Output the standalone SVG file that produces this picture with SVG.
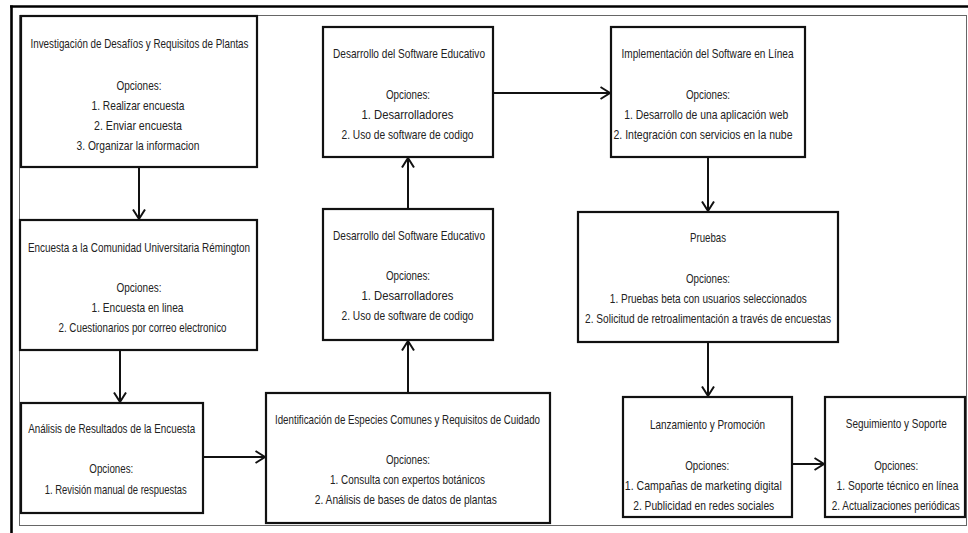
<svg xmlns="http://www.w3.org/2000/svg" width="968" height="533" viewBox="0 0 968 533">
<defs>
<style>
.box{fill:#fff;stroke:#111;stroke-width:2.2}
.t{font-family:"Liberation Sans",Arial,sans-serif;font-size:13.5px;fill:#222;text-anchor:middle}
.conn{fill:none;stroke:#111;stroke-width:2}
.frame{fill:none;stroke:#666;stroke-width:1}
.thick{stroke:#000;stroke-width:2.6}
</style>
<marker id="arr" viewBox="0 0 12 14" refX="10.5" refY="7" markerWidth="12" markerHeight="14" markerUnits="userSpaceOnUse" orient="auto">
<path d="M1,1 L10.5,7 L1,13" fill="none" stroke="#111" stroke-width="2"/>
</marker>
</defs>
<rect x="0" y="0" width="968" height="533" fill="#fff"/>
<rect class="frame" x="19.5" y="15.5" width="947" height="510"/>
<line class="thick" x1="10" y1="6.5" x2="968" y2="6.5"/>
<line class="thick" x1="11.5" y1="5.5" x2="11.5" y2="533"/>

<g id="connectors">
<path class="conn" d="M139,167 V219" marker-end="url(#arr)"/>
<path class="conn" d="M120,350 V402" marker-end="url(#arr)"/>
<path class="conn" d="M203,457 H265" marker-end="url(#arr)"/>
<path class="conn" d="M408,393 V341" marker-end="url(#arr)"/>
<path class="conn" d="M408,209 V158" marker-end="url(#arr)"/>
<path class="conn" d="M493,93 H610" marker-end="url(#arr)"/>
<path class="conn" d="M708,157 V211" marker-end="url(#arr)"/>
<path class="conn" d="M708,342 V396" marker-end="url(#arr)"/>
<path class="conn" d="M792,464 H824" marker-end="url(#arr)"/>
</g>

<g id="n1">
<rect class="box" x="21" y="16" width="236" height="151"/>
<text class="t" x="139.5" y="48" textLength="218" lengthAdjust="spacingAndGlyphs">Investigación de Desafíos y Requisitos de Plantas</text>
<text class="t" x="139" y="90" textLength="45" lengthAdjust="spacingAndGlyphs">Opciones:</text>
<text class="t" x="138" y="110" textLength="93" lengthAdjust="spacingAndGlyphs">1. Realizar encuesta</text>
<text class="t" x="138" y="130" textLength="88" lengthAdjust="spacingAndGlyphs">2. Enviar encuesta</text>
<text class="t" x="138" y="150" textLength="123" lengthAdjust="spacingAndGlyphs">3. Organizar la informacion</text>
</g>

<g id="n2">
<rect class="box" x="20" y="220" width="237" height="130"/>
<text class="t" x="139" y="252" textLength="222" lengthAdjust="spacingAndGlyphs">Encuesta a la Comunidad Universitaria Rémington</text>
<text class="t" x="139" y="292" textLength="45" lengthAdjust="spacingAndGlyphs">Opciones:</text>
<text class="t" x="137.5" y="312" textLength="92" lengthAdjust="spacingAndGlyphs">1. Encuesta en linea</text>
<text class="t" x="142.5" y="332" textLength="168" lengthAdjust="spacingAndGlyphs">2. Cuestionarios por correo electronico</text>
</g>

<g id="n3">
<rect class="box" x="21" y="403" width="182" height="110"/>
<text class="t" x="111.7" y="433" textLength="167" lengthAdjust="spacingAndGlyphs">Análisis de Resultados de la Encuesta</text>
<text class="t" x="111.3" y="473" textLength="44" lengthAdjust="spacingAndGlyphs">Opciones:</text>
<text class="t" x="115.8" y="494" textLength="142" lengthAdjust="spacingAndGlyphs">1. Revisión manual de respuestas</text>
</g>

<g id="n4">
<rect class="box" x="266" y="393" width="284" height="130"/>
<text class="t" x="407.5" y="424" textLength="265" lengthAdjust="spacingAndGlyphs">Identificación de Especies Comunes y Requisitos de Cuidado</text>
<text class="t" x="408" y="463.5" textLength="44" lengthAdjust="spacingAndGlyphs">Opciones:</text>
<text class="t" x="407.5" y="483.5" textLength="155" lengthAdjust="spacingAndGlyphs">1. Consulta con expertos botánicos</text>
<text class="t" x="405.8" y="504" textLength="182" lengthAdjust="spacingAndGlyphs">2. Análisis de bases de datos de plantas</text>
</g>

<g id="n5">
<rect class="box" x="323" y="209" width="170" height="131"/>
<text class="t" x="409" y="240" textLength="152" lengthAdjust="spacingAndGlyphs">Desarrollo del Software Educativo</text>
<text class="t" x="408" y="280" textLength="44" lengthAdjust="spacingAndGlyphs">Opciones:</text>
<text class="t" x="407.5" y="300" textLength="92" lengthAdjust="spacingAndGlyphs">1. Desarrolladores</text>
<text class="t" x="407.5" y="320" textLength="132" lengthAdjust="spacingAndGlyphs">2. Uso de software de codigo</text>
</g>

<g id="n6">
<rect class="box" x="323" y="27" width="170" height="130"/>
<text class="t" x="409" y="57.5" textLength="152" lengthAdjust="spacingAndGlyphs">Desarrollo del Software Educativo</text>
<text class="t" x="408" y="98.5" textLength="44" lengthAdjust="spacingAndGlyphs">Opciones:</text>
<text class="t" x="407.5" y="118.5" textLength="92" lengthAdjust="spacingAndGlyphs">1. Desarrolladores</text>
<text class="t" x="407.5" y="138.5" textLength="132" lengthAdjust="spacingAndGlyphs">2. Uso de software de codigo</text>
</g>

<g id="n7">
<rect class="box" x="611" y="27" width="194" height="130"/>
<text class="t" x="707.5" y="58" textLength="172" lengthAdjust="spacingAndGlyphs">Implementación del Software en Línea</text>
<text class="t" x="708" y="98.5" textLength="44" lengthAdjust="spacingAndGlyphs">Opciones:</text>
<text class="t" x="706.2" y="118.5" textLength="164" lengthAdjust="spacingAndGlyphs">1. Desarrollo de una aplicación web</text>
<text class="t" x="703" y="138.5" textLength="179" lengthAdjust="spacingAndGlyphs">2. Integración con servicios en la nube</text>
</g>

<g id="n8">
<rect class="box" x="578" y="212" width="260" height="130"/>
<text class="t" x="708" y="242" textLength="36" lengthAdjust="spacingAndGlyphs">Pruebas</text>
<text class="t" x="708" y="283" textLength="44" lengthAdjust="spacingAndGlyphs">Opciones:</text>
<text class="t" x="708.3" y="303" textLength="197" lengthAdjust="spacingAndGlyphs">1. Pruebas beta con usuarios seleccionados</text>
<text class="t" x="708" y="323" textLength="246" lengthAdjust="spacingAndGlyphs">2. Solicitud de retroalimentación a través de encuestas</text>
</g>

<g id="n9">
<rect class="box" x="623" y="397" width="169" height="120"/>
<text class="t" x="707.5" y="428.5" textLength="115" lengthAdjust="spacingAndGlyphs">Lanzamiento y Promoción</text>
<text class="t" x="707.2" y="470" textLength="44" lengthAdjust="spacingAndGlyphs">Opciones:</text>
<text class="t" x="703.3" y="490" textLength="157" lengthAdjust="spacingAndGlyphs">1. Campañas de marketing digital</text>
<text class="t" x="703.7" y="510" textLength="141" lengthAdjust="spacingAndGlyphs">2. Publicidad en redes sociales</text>
</g>

<g id="n10">
<rect class="box" x="825" y="397" width="140" height="120"/>
<g transform="translate(896,0) scale(0.72,1) translate(-896,0)">
<text class="t" x="896.4" y="428.5" textLength="140.3" lengthAdjust="spacingAndGlyphs">Seguimiento y Soporte</text>
<text class="t" x="896.3" y="470" textLength="61.1" lengthAdjust="spacingAndGlyphs">Opciones:</text>
<text class="t" x="898.1" y="490" textLength="169.4" lengthAdjust="spacingAndGlyphs">1. Soporte técnico en línea</text>
<text class="t" x="895.7" y="510" textLength="177.8" lengthAdjust="spacingAndGlyphs">2. Actualizaciones periódicas</text>
</g>
</g>
</svg>
